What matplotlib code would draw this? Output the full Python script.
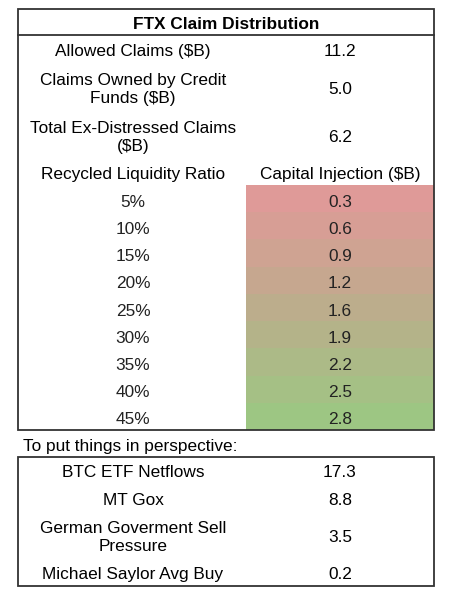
import matplotlib
matplotlib.use("Agg")
import matplotlib.pyplot as plt
from matplotlib.colors import LinearSegmentedColormap, Normalize
from matplotlib.patches import Rectangle

plt.rcParams["font.family"] = ["Liberation Sans", "DejaVu Sans"]

title = "FTX Claim Distribution"
summary_labels = ["Allowed Claims ($B)", "Claims Owned by Credit\nFunds ($B)",
                  "Total Ex-Distressed Claims\n($B)"]
summary_values = ["11.2", "5.0", "6.2"]
ratio_header = "Recycled Liquidity Ratio"
injection_header = "Capital Injection ($B)"
ratios = ["5%", "10%", "15%", "20%", "25%", "30%", "35%", "40%", "45%"]
injections = [0.3, 0.6, 0.9, 1.2, 1.6, 1.9, 2.2, 2.5, 2.8]
note = "To put things in perspective:"
compare_labels = ["BTC ETF Netflows", "MT Gox", "German Goverment Sell\nPressure",
                  "Michael Saylor Avg Buy"]
compare_values = ["17.3", "8.8", "3.5", "0.2"]

W, H = 458, 594
fig = plt.figure(figsize=(W / 100, H / 100), dpi=100)
ax = fig.add_axes([0, 0, 1, 1])
ax.set_xlim(0, W)
ax.set_ylim(H, 0)
ax.axis("off")

fs = 12.4
dy = 1.5  # nudge so glyphs sit where they do in the sheet
ls = 1.25
edge = "#333333"
left, right, mid = 18, 434, 246
c1, c2 = 133, 340

# top box
ax.add_patch(Rectangle((left, 9), right - left, 430 - 9, fill=False, ec=edge, lw=1.3, zorder=5))
ax.plot([left, right], [35, 35], color=edge, lw=1.3, zorder=5)
ax.text((left + right) / 2, 23 + dy, title, ha="center", va="center", fontsize=fs, fontweight="bold")

for y, lab, val in zip([50, 88, 136], summary_labels, summary_values):
    ax.text(c1, y + dy, lab, ha="center", va="center", fontsize=fs, linespacing=ls)
    ax.text(c2, y + dy, val, ha="center", va="center", fontsize=fs)

ax.text(c1, 173 + dy, ratio_header, ha="center", va="center", fontsize=fs)
ax.text(c2, 173 + dy, injection_header, ha="center", va="center", fontsize=fs)

cmap = LinearSegmentedColormap.from_list("rg", ["#DF9A98", "#BDAC8C", "#9DC683"])
norm = Normalize(min(injections), max(injections))
top, ch = 185, (430 - 185) / len(ratios)
for i, (r, v) in enumerate(zip(ratios, injections)):
    y0 = top + i * ch
    ax.add_patch(Rectangle((mid, y0), right - mid, ch, color=cmap(norm(v)), lw=0, zorder=1))
    ax.text(c1, y0 + ch / 2 + 2 + dy, r, ha="center", va="center", fontsize=fs, color="#222222")
    ax.text(c2, y0 + ch / 2 + 2 + dy, f"{v:.1f}", ha="center", va="center", fontsize=fs, color="#222222")

ax.text(23, 445 + dy, note, ha="left", va="center", fontsize=fs)

# bottom box
ax.add_patch(Rectangle((left, 457), right - left, 586 - 457, fill=False, ec=edge, lw=1.3, zorder=5))
for y, lab, val in zip([471, 499, 536, 573], compare_labels, compare_values):
    ax.text(c1, y + dy, lab, ha="center", va="center", fontsize=fs, linespacing=ls)
    ax.text(c2, y + dy, val, ha="center", va="center", fontsize=fs)

fig.savefig("out.png", dpi=100, facecolor="white")
